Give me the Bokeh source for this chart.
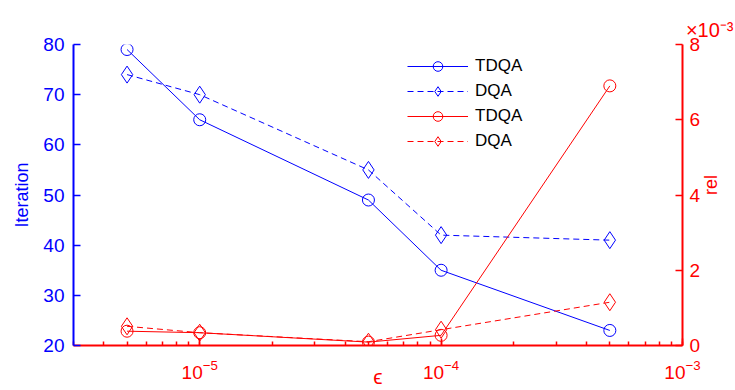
import math
from bokeh.plotting import figure
from bokeh.models import (Range1d, LinearAxis, SingleIntervalTicker, LogTicker,
                          CustomJSTickFormatter, Legend, LegendItem, Title)
from bokeh.embed import file_html
from bokeh.resources import INLINE

# tolerance values on the x axis
eps = [5e-6, 1e-5, 5e-5, 1e-4, 5e-4]

# iteration counts (left axis)
iter_tdqa = [79, 65, 49, 35, 23]
iter_dqa = [74, 70, 55, 42, 41]

# relative error (right axis)
rel_tdqa = [0.38e-3, 0.34e-3, 0.09e-3, 0.27e-3, 6.9e-3]
rel_dqa = [0.51e-3, 0.34e-3, 0.10e-3, 0.42e-3, 1.15e-3]

BLUE = "#0000ff"
RED = "#ff0000"
FONT = "Liberation Sans"

p = figure(width=735, height=390, x_axis_type="log",
           x_range=Range1d(3e-6, 1e-3), y_range=Range1d(20, 80),
           output_backend="svg", toolbar_location=None,
           min_border_left=73, min_border_right=53,
           min_border_top=44, min_border_bottom=45)
p.extra_y_ranges = {"rel": Range1d(0, 8e-3)}
p.grid.visible = False
p.outline_line_color = None
p.background_fill_color = "white"

# bottom (log) axis
xa = p.xaxis[0]
xa.ticker = LogTicker(num_minor_ticks=10)
xa.axis_label = "ϵ"
# left axis
ya = p.yaxis[0]
ya.ticker = SingleIntervalTicker(interval=10, num_minor_ticks=0)
ya.axis_label = "Iteration"
# right axis
ra = LinearAxis(y_range_name="rel",
                ticker=SingleIntervalTicker(interval=0.002, num_minor_ticks=0),
                formatter=CustomJSTickFormatter(code="return (tick*1000).toFixed(0);"),
                axis_label="rel")
p.add_layout(ra, "right")

for ax, col in ((xa, RED), (ya, BLUE), (ra, RED)):
    ax.axis_line_color = col
    ax.axis_line_width = 2
    ax.major_tick_line_color = col
    ax.minor_tick_line_color = col
    ax.major_tick_line_width = 1.5
    ax.minor_tick_line_width = 1.5
    ax.major_tick_in = 7
    ax.major_tick_out = 0
    ax.minor_tick_in = 4
    ax.minor_tick_out = 0
    ax.major_label_text_color = col
    ax.major_label_text_font = FONT
    ax.major_label_text_font_size = "19px"
    ax.axis_label_text_color = col
    ax.axis_label_text_font = FONT
    ax.axis_label_text_font_size = "18px"
    ax.axis_label_text_font_style = "normal"

ya.major_label_standoff = 9
ya.axis_label_standoff = 8
ra.major_label_standoff = 7
ra.axis_label_standoff = 8
ra.axis_label_orientation = math.pi / 2
ra.axis_label_text_baseline = "top"
xa.major_label_standoff = 14
xa.axis_label_standoff = -17
xa.axis_label_text_font_size = "21px"

# iteration series
l1 = p.line(eps, iter_tdqa, color=BLUE, line_width=1)
m1 = p.scatter(eps, iter_tdqa, marker="circle", size=12, line_color=BLUE, fill_color=None)
l2 = p.line(eps, iter_dqa, color=BLUE, line_width=1, line_dash="6 4")
m2 = p.scatter(eps, iter_dqa, marker="diamond", size=17, line_color=BLUE, fill_color=None)

# relative error series
l3 = p.line(eps, rel_tdqa, color=RED, line_width=1, y_range_name="rel")
m3 = p.scatter(eps, rel_tdqa, marker="circle", size=12, line_color=RED, fill_color=None,
               y_range_name="rel")
l4 = p.line(eps, rel_dqa, color=RED, line_width=1, line_dash="6 4", y_range_name="rel")
m4 = p.scatter(eps, rel_dqa, marker="diamond", size=17, line_color=RED, fill_color=None,
               y_range_name="rel")

legend = Legend(items=[
    LegendItem(label="TDQA", renderers=[l1, m1]),
    LegendItem(label="DQA", renderers=[l2, m2]),
    LegendItem(label="TDQA", renderers=[l3, m3]),
    LegendItem(label="DQA", renderers=[l4, m4]),
], location=(334, 192))
legend.border_line_color = None
legend.background_fill_alpha = 1
legend.label_text_font = FONT
legend.label_text_font_size = "17px"
legend.label_text_color = "black"
legend.glyph_width = 61
legend.glyph_height = 24
legend.label_height = 24
legend.spacing = 1
legend.padding = 0
legend.margin = 0
legend.label_standoff = 7
p.add_layout(legend, "center")

# exponent note above the right axis
p.add_layout(Title(text="×10⁻³", align="right", offset=-51,
                   text_color=RED, text_font=FONT, text_font_size="20px",
                   text_font_style="normal", standoff=7), "above")

open("out.html", "w").write(file_html(p, INLINE))
